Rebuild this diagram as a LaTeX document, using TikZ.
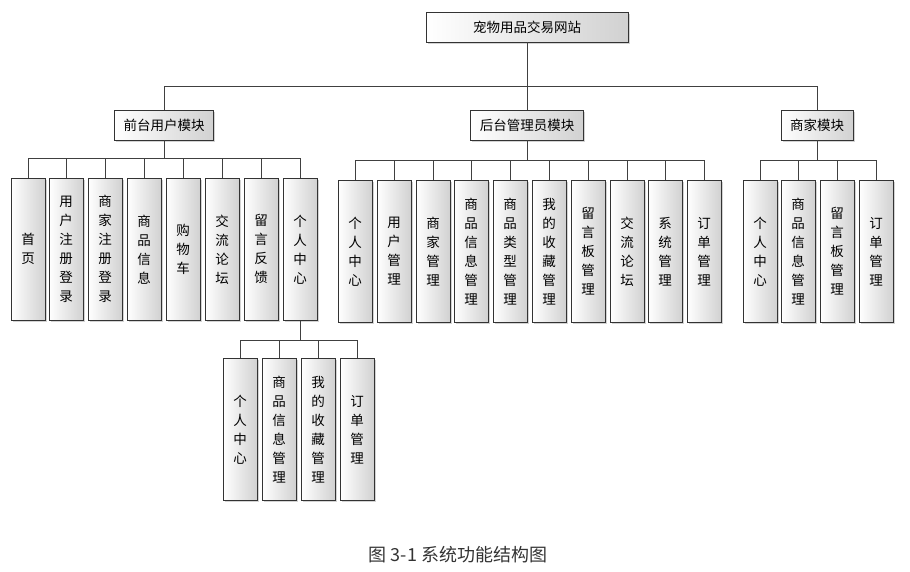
\documentclass[tikz,border=0pt]{standalone}
\usepackage{fontspec}
\setmainfont{Liberation Serif}
\newfontfamily\cjk{Noto Sans CJK SC}
\usetikzlibrary{shadows}
\begin{document}
\begin{tikzpicture}[x=1pt,y=-1pt,
  bx/.style={draw=black!80,line width=0.7pt,left color=white,right color=black!18,font=\cjk\fontsize{13.5}{19}\selectfont,inner sep=2pt,drop shadow={shadow xshift=1.5pt,shadow yshift=-1.5pt,opacity=0.35}},
  vb/.style={bx,minimum width=34pt,minimum height=142pt,align=center,anchor=north,text width=16pt,inner xsep=0pt},
  hb/.style={bx,minimum height=30pt,inner xsep=9pt},
  ln/.style={draw=black!75,line width=0.7pt}]
\useasboundingbox (0,0) rectangle (910,571);
\node[hb,minimum width=202pt] (root) at (527,27) {宠物用品交易网站};
\node[hb] (f) at (164,125) {前台用户模块};
\node[hb] (a) at (527,125) {后台管理员模块};
\node[hb] (m) at (817,125) {商家模块};
\coordinate (rb) at (527,86);
\draw[ln] (root.south) -- (rb);
\draw[ln] (164,86) -- (817,86);
\foreach \c in {f,a,m} \draw[ln] (\c|-rb) -- (\c.north);
% front
\draw[ln] (28,158) -- (300,158) (f.south) -- (164,158);
\foreach \x/\t [count=\i] in {28/首\\页,66/用\\户\\注\\册\\登\\录,105/商\\家\\注\\册\\登\\录,144/商\\品\\信\\息,183/购\\物\\车,222/交\\流\\论\\坛,261/留\\言\\反\\馈,300/个\\人\\中\\心}{
  \draw[ln] (\x,158) -- (\x,178);
  \node[vb] (f\i) at (\x,178) {\t};}
% admin
\draw[ln] (355,160) -- (704,160) (a.south) -- (527,160);
\foreach \x/\t [count=\i] in {355/个\\人\\中\\心,394/用\\户\\管\\理,433/商\\家\\管\\理,471/商\\品\\信\\息\\管\\理,510/商\\品\\类\\型\\管\\理,549/我\\的\\收\\藏\\管\\理,588/留\\言\\板\\管\\理,627/交\\流\\论\\坛,665/系\\统\\管\\理,704/订\\单\\管\\理}{
  \draw[ln] (\x,160) -- (\x,180);
  \node[vb] (a\i) at (\x,180) {\t};}
% merchant
\draw[ln] (760,160) -- (876,160) (m.south) -- (817,160);
\foreach \x/\t [count=\i] in {760/个\\人\\中\\心,798/商\\品\\信\\息\\管\\理,837/留\\言\\板\\管\\理,876/订\\单\\管\\理}{
  \draw[ln] (\x,160) -- (\x,180);
  \node[vb] (m\i) at (\x,180) {\t};}
% sub
\coordinate (sb) at (300,340);
\draw[ln] (f8.south) -- (sb) (240,340) -- (357,340);
\foreach \x/\t [count=\i] in {240/个\\人\\中\\心,279/商\\品\\信\\息\\管\\理,318/我\\的\\收\\藏\\管\\理,357/订\\单\\管\\理}{
  \draw[ln] (\x,340) -- (\x,358);
  \node[vb] (s\i) at (\x,358) {\t};}
\node[font=\cjk\fontsize{18}{20}\selectfont,text=black!80] (cap) at (458,555) {图 3-1 系统功能结构图};
\end{tikzpicture}
\end{document}
